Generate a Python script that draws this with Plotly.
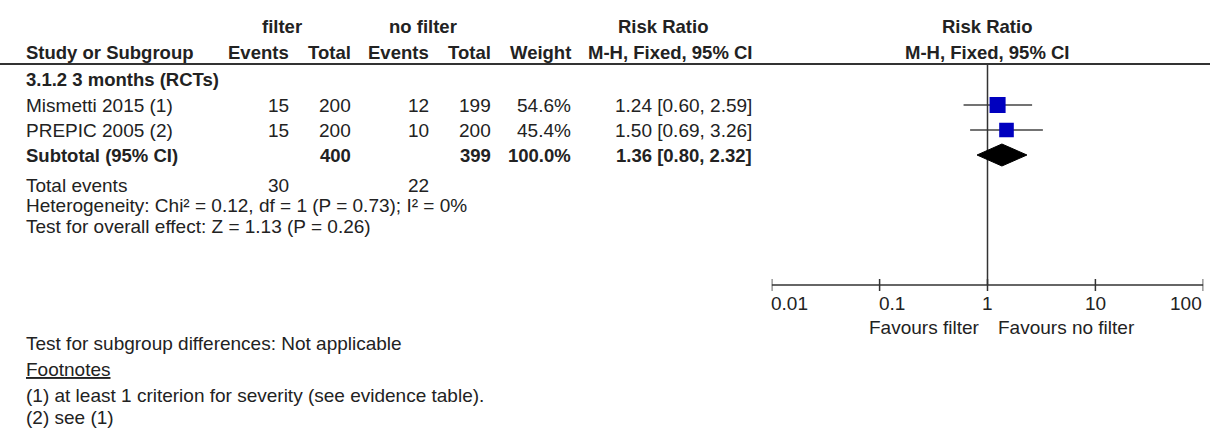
import plotly.graph_objects as go
import math

# ---------------- data ----------------
studies = ["Mismetti 2015 (1)", "PREPIC 2005 (2)"]
filter_events = [15, 15]
filter_total = [200, 200]
nofilter_events = [12, 10]
nofilter_total = [199, 200]
weights = [54.6, 45.4]
rr = [1.24, 1.50]
rr_lo = [0.60, 0.69]
rr_hi = [2.59, 3.26]

subtotal_filter_total = 400
subtotal_nofilter_total = 399
subtotal_weight = 100.0
subtotal_rr = 1.36
subtotal_lo = 0.80
subtotal_hi = 2.32
total_events_filter = 30
total_events_nofilter = 22

subgroup_label = "3.1.2 3 months (RCTs)"
heterogeneity = "Heterogeneity: Chi² = 0.12, df = 1 (P = 0.73); I² = 0%"
overall = "Test for overall effect: Z = 1.13 (P = 0.26)"
subgroup_diff = "Test for subgroup differences: Not applicable"
footnotes = ["(1) at least 1 criterion for severity (see evidence table).", "(2) see (1)"]

tick_vals = [0.01, 0.1, 1, 10, 100]
tick_labels = ["0.01", "0.1", "1", "10", "100"]
favours_left = "Favours filter"
favours_right = "Favours no filter"

# ---------------- layout (pixel positions) ----------------
W, H = 1210, 430
FONT = "Liberation Sans"
REG = 19
BOLD = 18.5
TXT = "#222222"
ax_left, ax_right = 771.7, 1203.3
row_y = {"h1": 26, "h2": 52, "line": 64, "sub": 79, "s0": 105, "s1": 130,
         "tot": 155, "ev": 185, "het": 205, "ovr": 226, "axis": 285,
         "tick": 303, "fav": 327, "diff": 343, "fn": 369, "f1": 395, "f2": 417}
col_x = {"study": 27, "fe": 290, "ft": 352, "ne": 430, "nt": 492, "w": 572, "ci": 753}
SHIFT = {"left": -3, "right": 1, "center": 0}

fig = go.Figure()
ann = []

def txt(x, y, s, anchor="left", bold=False, size=None):
    ann.append(dict(x=x / W, y=y, xref="paper", yref="y", text=s, showarrow=False,
                    xanchor=anchor, xshift=SHIFT[anchor], yanchor="middle",
                    font=dict(family=FONT, size=size or (BOLD if bold else REG), color=TXT)))

def b(s):
    return "<b>" + s + "</b>"

# headers
txt(282, row_y["h1"], b("filter"), "center", True)
txt(423, row_y["h1"], b("no filter"), "center", True)
txt(663, row_y["h1"], b("Risk Ratio"), "center", True)
txt(987, row_y["h1"], b("Risk Ratio"), "center", True)
txt(col_x["study"], row_y["h2"], b("Study or Subgroup"), "left", True)
txt(col_x["fe"], row_y["h2"], b("Events"), "right", True)
txt(col_x["ft"], row_y["h2"], b("Total"), "right", True)
txt(col_x["ne"], row_y["h2"], b("Events"), "right", True)
txt(col_x["nt"], row_y["h2"], b("Total"), "right", True)
txt(col_x["w"], row_y["h2"], b("Weight"), "right", True)
txt(col_x["ci"], row_y["h2"], b("M-H, Fixed, 95% CI"), "right", True)
txt(987, row_y["h2"], b("M-H, Fixed, 95% CI"), "center", True)

txt(col_x["study"], row_y["sub"], b(subgroup_label), "left", True)

rows = [row_y["s0"], row_y["s1"]]
for i, s in enumerate(studies):
    y = rows[i]
    txt(col_x["study"], y, s)
    txt(col_x["fe"], y, str(filter_events[i]), "right")
    txt(col_x["ft"], y, str(filter_total[i]), "right")
    txt(col_x["ne"], y, str(nofilter_events[i]), "right")
    txt(col_x["nt"], y, str(nofilter_total[i]), "right")
    txt(col_x["w"], y, f"{weights[i]:.1f}%", "right")
    txt(col_x["ci"], y, f"{rr[i]:.2f} [{rr_lo[i]:.2f}, {rr_hi[i]:.2f}]", "right")

y = row_y["tot"]
txt(col_x["study"], y, b("Subtotal (95% CI)"), "left", True)
txt(col_x["ft"], y, b(str(subtotal_filter_total)), "right", True)
txt(col_x["nt"], y, b(str(subtotal_nofilter_total)), "right", True)
txt(col_x["w"], y, b(f"{subtotal_weight:.1f}%"), "right", True)
txt(col_x["ci"], y, b(f"{subtotal_rr:.2f} [{subtotal_lo:.2f}, {subtotal_hi:.2f}]"), "right", True)

txt(col_x["study"], row_y["ev"], "Total events")
txt(col_x["fe"], row_y["ev"], str(total_events_filter), "right")
txt(col_x["ne"], row_y["ev"], str(total_events_nofilter), "right")
txt(col_x["study"], row_y["het"], heterogeneity)
txt(col_x["study"], row_y["ovr"], overall)
txt(col_x["study"], row_y["diff"], subgroup_diff)
txt(col_x["study"], row_y["fn"], "<u>Footnotes</u>")
txt(col_x["study"], row_y["f1"], footnotes[0])
txt(col_x["study"], row_y["f2"], footnotes[1])

# header rule
fig.add_shape(type="line", xref="paper", yref="y", x0=0, x1=1, y0=row_y["line"], y1=row_y["line"],
              line=dict(color="#333333", width=2))

# forest: CI lines
for i in range(len(studies)):
    fig.add_trace(go.Scatter(x=[rr_lo[i], rr_hi[i]], y=[rows[i], rows[i]], mode="lines",
                             line=dict(color="#444444", width=1.5), showlegend=False, hoverinfo="skip"))
# line of no effect
fig.add_trace(go.Scatter(x=[1, 1], y=[row_y["line"], row_y["axis"]], mode="lines",
                         line=dict(color="#333333", width=1.5), showlegend=False, hoverinfo="skip"))
# squares
fig.add_trace(go.Scatter(x=rr, y=rows, mode="markers",
                         marker=dict(symbol="square", color="#0000BF", opacity=1,
                                     size=[2.17 * math.sqrt(w) for w in weights],
                                     line=dict(width=0)),
                         showlegend=False, hoverinfo="skip"))
# diamond
dy = 11
yt = row_y["tot"]
fig.add_trace(go.Scatter(x=[subtotal_lo, subtotal_rr, subtotal_hi, subtotal_rr, subtotal_lo],
                         y=[yt, yt - dy, yt, yt + dy, yt], mode="lines", fill="toself",
                         fillcolor="black", line=dict(color="black", width=1),
                         showlegend=False, hoverinfo="skip"))
# axis
ya = row_y["axis"]
fig.add_trace(go.Scatter(x=[tick_vals[0], tick_vals[-1]], y=[ya, ya], mode="lines",
                         line=dict(color="#333333", width=1.5), showlegend=False, hoverinfo="skip"))
for t in tick_vals:
    fig.add_trace(go.Scatter(x=[t, t], y=[ya - 6, ya + 6], mode="lines",
                             line=dict(color="#333333", width=1.5), showlegend=False, hoverinfo="skip"))
anchors = ["left", "left", "center", "center", "right"]
for t, lab, a in zip(tick_vals, tick_labels, anchors):
    ann.append(dict(x=math.log10(t), y=row_y["tick"], xref="x", yref="y", text=lab, showarrow=False,
                    xanchor=a, xshift=SHIFT[a], yanchor="middle", font=dict(family=FONT, size=REG, color=TXT)))
ann.append(dict(x=math.log10(1), y=row_y["fav"], xref="x", yref="y", text=favours_left, showarrow=False,
                xanchor="right", xshift=-7, yanchor="middle", font=dict(family=FONT, size=REG, color=TXT)))
ann.append(dict(x=math.log10(1), y=row_y["fav"], xref="x", yref="y", text=favours_right, showarrow=False,
                xanchor="left", xshift=8, yanchor="middle", font=dict(family=FONT, size=REG, color=TXT)))

fig.update_layout(
    width=W, height=H, margin=dict(l=0, r=0, t=0, b=0),
    paper_bgcolor="white", plot_bgcolor="white",
    xaxis=dict(type="log", range=[-2, 2], domain=[ax_left / W, ax_right / W], visible=False),
    yaxis=dict(range=[H, 0], domain=[0, 1], visible=False),
    annotations=ann, showlegend=False,
)

fig.write_html("out.html", config={"displayModeBar": False},
               post_script="document.body.style.margin='0';")
